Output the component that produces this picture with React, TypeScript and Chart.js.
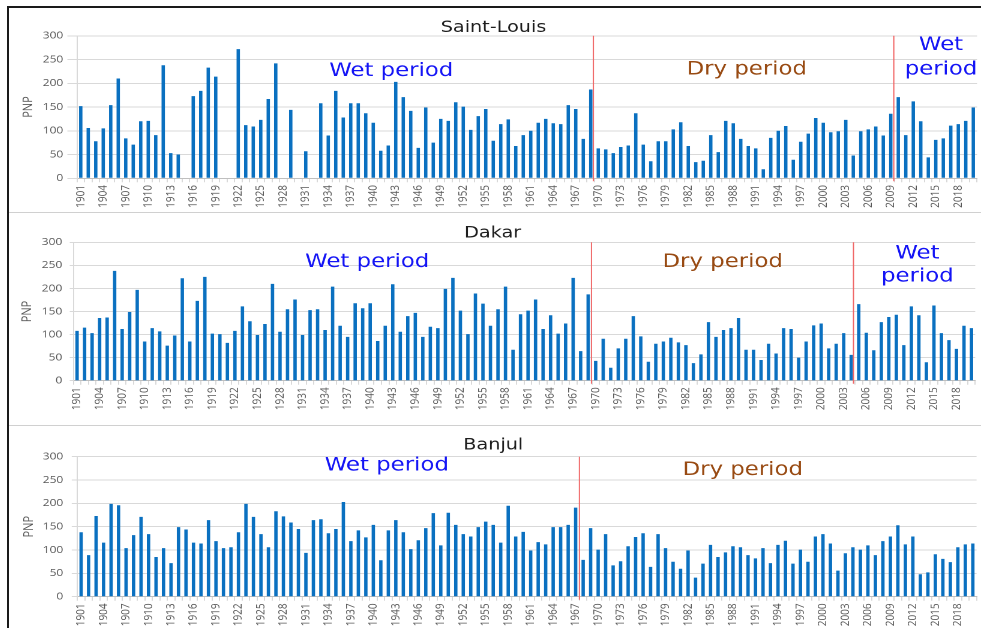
import React, { useEffect, useRef } from "react";
import { Chart, registerables } from "chart.js";
Chart.register(...registerables);

// ---------- DATA ----------
const FIRST_YEAR = 1901;
const LAST_YEAR = 2020;
const years: string[] = [];
for (let y = FIRST_YEAR; y <= LAST_YEAR; y++) years.push(String(y));

const tickLabels = [
  "1901", "1904", "1907", "1910", "1913", "1916", "1919", "1922", "1925", "1928",
  "1931", "1934", "1937", "1940", "1943", "1946", "1949", "1952", "1955", "1958",
  "1961", "1964", "1967", "1970", "1973", "1976", "1979", "1982", "1985", "1988",
  "1991", "1994", "1997", "2000", "2003", "2006", "2009", "2012", "2015", "2018",
];

const yTicks = [0, 50, 100, 150, 200, 250, 300];

const saintLouis: (number | null)[] = [
  152, 106, 78, 105, 154, 210, 84, 71, 120, 121,
  91, 238, 53, 50, null, 173, 184, 233, 214, null,
  null, 272, 112, 109, 123, 167, 242, null, 144, null,
  57, null, 158, 90, 184, 128, 158, 158, 137, 117,
  58, 69, 203, 171, 142, 64, 149, 75, 125, 121,
  160, 151, 102, 131, 146, 79, 114, 124, 68, 91,
  100, 117, 125, 116, 114, 154, 146, 83, 187, 63,
  61, 53, 66, 69, 137, 71, 36, 78, 78, 103,
  118, 68, 34, 37, 91, 55, 121, 116, 83, 68,
  63, 19, 85, 100, 110, 39, 77, 94, 127, 117,
  97, 99, 123, 48, 99, 103, 109, 90, 136, 171,
  91, 162, 120, 44, 81, 84, 111, 114, 121, 149,
];

const dakar: (number | null)[] = [
  108, 115, 103, 136, 137, 238, 112, 149, 197, 85,
  114, 107, 76, 98, 222, 85, 173, 225, 102, 101,
  82, 108, 161, 129, 99, 123, 210, 106, 155, 176,
  99, 153, 155, 110, 204, 119, 95, 168, 157, 168,
  86, 119, 209, 106, 140, 147, 95, 117, 114, 199,
  223, 152, 101, 189, 167, 119, 155, 204, 67, 144,
  152, 176, 112, 142, 102, 124, 223, 64, 187, 43,
  91, 28, 70, 91, 140, 96, 41, 80, 85, 93,
  83, 77, 38, 57, 127, 95, 110, 114, 136, 67,
  67, 45, 80, 59, 114, 112, 50, 85, 120, 124,
  70, 80, 103, 56, 166, 104, 66, 127, 138, 143,
  77, 161, 142, 40, 163, 103, 88, 69, 119, 114,
];

const banjul: (number | null)[] = [
  138, 89, 173, 116, 199, 196, 104, 132, 171, 134,
  85, 104, 72, 149, 144, 116, 114, 164, 119, 104,
  106, 138, 199, 171, 134, 106, 183, 172, 159, 145,
  94, 164, 166, 136, 145, 203, 119, 142, 127, 154,
  78, 142, 164, 138, 102, 121, 147, 179, 110, 180,
  154, 134, 129, 149, 161, 154, 116, 195, 129, 139,
  99, 117, 112, 149, 149, 154, 191, 79, 147, 101,
  134, 67, 76, 108, 128, 136, 64, 134, 104, 75,
  60, 99, 41, 71, 111, 85, 95, 108, 106, 89,
  82, 104, 72, 111, 120, 71, 101, 75, 129, 134,
  114, 56, 93, 106, 101, 110, 89, 119, 129, 153,
  112, 129, 48, 52, 91, 81, 74, 106, 112, 114,
];

// period boundaries (fractional year between two bars)
const saintLouisBreaks = [1969.35, 2009.4];
const dakarBreaks = [1969.44, 2004.3];
const banjulBreaks = [1967.5];

// period labels: text, year position, value of baseline
type Note = { text: string; year: number; value: number; kind: "wet" | "dry" };
const saintLouisNotes: Note[] = [
  { text: "Wet period", year: 1942.4, value: 215, kind: "wet" },
  { text: "Dry period", year: 1989.8, value: 219, kind: "dry" },
  { text: "Wet", year: 2015.7, value: 270, kind: "wet" },
  { text: "period", year: 2015.7, value: 219, kind: "wet" },
];
const dakarNotes: Note[] = [
  { text: "Wet period", year: 1939.6, value: 247, kind: "wet" },
  { text: "Dry period", year: 1986.9, value: 246, kind: "dry" },
  { text: "Wet", year: 2012.8, value: 265, kind: "wet" },
  { text: "period", year: 2012.8, value: 215, kind: "wet" },
];
const banjulNotes: Note[] = [
  { text: "Wet period", year: 1941.8, value: 270, kind: "wet" },
  { text: "Dry period", year: 1989.3, value: 261, kind: "dry" },
];

// ---------- LAYOUT / STYLE ----------
const LOGICAL_W = 809;
const CSS_W = 971;
const CSS_LEFT = 10;
const BAR_COLOR = "#0a70c0";
const WET_COLOR = "#1414f5";
const DRY_COLOR = "#984a12";
const BREAK_COLOR = "#f06868";
const TICK_COLOR = "#595959";
const GRID_COLOR = "#d9d9d9";

type Layout = {
  top: number; height: number; yWidth: number; yTickLen: number; yTickPad: number;
  yTitlePad: number; rightPad: number; titleTop: number; titleBottom: number;
  xHeight: number; xTickLen: number; xTickPad: number;
};

const panels = [
  {
    title: "Saint-Louis", data: saintLouis, breaks: saintLouisBreaks, notes: saintLouisNotes,
    layout: { top: 9, height: 203, yWidth: 55.8, yTickLen: 8, yTickPad: 3.4, yTitlePad: 8.7, rightPad: 3.3,
      titleTop: 10.8, titleBottom: 0, xHeight: 33.7, xTickLen: 4, xTickPad: 2.7 } as Layout,
  },
  {
    title: "Dakar", data: dakar, breaks: dakarBreaks, notes: dakarNotes,
    layout: { top: 214, height: 211, yWidth: 52.75, yTickLen: 3, yTickPad: 6.2, yTitlePad: 7.8, rightPad: 4.8,
      titleTop: 11.5, titleBottom: 0.8, xHeight: 44.3, xTickLen: 4, xTickPad: 2.6 } as Layout,
  },
  {
    title: "Banjul", data: banjul, breaks: banjulBreaks, notes: banjulNotes,
    layout: { top: 427, height: 201, yWidth: 56.1, yTickLen: 4.7, yTickPad: 7, yTitlePad: 9.5, rightPad: 3.7,
      titleTop: 10.5, titleBottom: 3.2, xHeight: 31.3, xTickLen: 4, xTickPad: 2.7 } as Layout,
  },
];

function Panel({ p }: { p: (typeof panels)[number] }) {
  const ref = useRef<HTMLCanvasElement>(null);
  const L = p.layout;
  useEffect(() => {
    const canvas = ref.current!;
    const notesPlugin = {
      id: "periodNotes",
      afterDraw(chart: any) {
        const { ctx, chartArea } = chart;
        const x = chart.scales.x;
        const y = chart.scales.y;
        ctx.save();
        ctx.strokeStyle = BREAK_COLOR;
        ctx.lineWidth = 1;
        for (const b of p.breaks) {
          const px = x.getPixelForValue(b - FIRST_YEAR);
          ctx.beginPath();
          ctx.moveTo(px, chartArea.top);
          ctx.lineTo(px, chartArea.bottom + 3);
          ctx.stroke();
        }
        ctx.font = '19px "DejaVu Sans"';
        ctx.textAlign = "center";
        ctx.textBaseline = "alphabetic";
        for (const n of p.notes) {
          ctx.fillStyle = n.kind === "wet" ? WET_COLOR : DRY_COLOR;
          ctx.fillText(n.text, x.getPixelForValue(n.year - FIRST_YEAR), y.getPixelForValue(n.value));
        }
        ctx.restore();
      },
    };
    const chart = new Chart(canvas, {
      type: "bar",
      data: {
        labels: years,
        datasets: [
          {
            data: p.data as any,
            backgroundColor: BAR_COLOR,
            borderWidth: 0,
            barPercentage: 0.45,
            categoryPercentage: 1,
          },
        ],
      },
      options: {
        animation: false,
        responsive: false,
        devicePixelRatio: 2,
        layout: { padding: { left: 0, right: L.rightPad, top: 0, bottom: 0 } },
        plugins: {
          legend: { display: false },
          tooltip: { enabled: false },
          title: {
            display: true,
            text: p.title,
            color: "#1e1e1e",
            font: { family: '"DejaVu Sans"', size: 16, weight: "normal", lineHeight: 1 },
            padding: { top: L.titleTop, bottom: L.titleBottom },
          },
        },
        scales: {
          x: {
            type: "category",
            offset: true,
            grid: {
              display: true,
              drawOnChartArea: false,
              drawTicks: true,
              tickLength: L.xTickLen,
              color: GRID_COLOR,
            },
            border: { display: true, color: "#bfbfbf", width: 1 },
            ticks: {
              autoSkip: false,
              maxRotation: 90,
              minRotation: 90,
              padding: L.xTickPad,
              color: TICK_COLOR,
              font: { family: '"Open Sans"', size: 10 },
              callback: (_v: any, i: number) => (tickLabels.includes(years[i]) ? years[i] : ""),
            },
            afterFit: (s: any) => {
              s.height = L.xHeight;
              s.paddingLeft = 0;
              s.paddingRight = 0;
            },
          },
          y: {
            min: yTicks[0],
            max: yTicks[yTicks.length - 1],
            grid: {
              color: GRID_COLOR,
              drawTicks: true,
              tickLength: L.yTickLen,
            },
            border: { display: true, color: GRID_COLOR },
            ticks: {
              stepSize: yTicks[1] - yTicks[0],
              padding: L.yTickPad,
              color: TICK_COLOR,
              font: { family: '"Open Sans"', size: 10 },
            },
            title: {
              display: true,
              text: "PNP",
              color: TICK_COLOR,
              font: { family: '"Open Sans"', size: 11, lineHeight: 1.2 },
              padding: { top: L.yTitlePad, bottom: 0 },
            },
            afterFit: (s: any) => {
              s.width = L.yWidth;
              s.paddingTop = 0;
              s.paddingBottom = 0;
            },
          },
        },
      } as any,
      plugins: [notesPlugin],
    });
    return () => chart.destroy();
  }, []);
  return (
    <canvas
      ref={ref}
      width={LOGICAL_W}
      height={L.height}
      style={{ position: "absolute", left: CSS_LEFT, top: L.top, width: CSS_W, height: L.height }}
    />
  );
}

export default function App() {
  return (
    <div style={{ position: "absolute", left: 0, top: 0, width: 981, height: 628, overflow: "hidden", background: "#fff" }}>
      <div
        style={{
          position: "absolute", left: 7, top: 6, width: 972, height: 640,
          borderTop: "2px solid #1a1a1a", borderLeft: "2px solid #1a1a1a",
        }}
      />
      <div style={{ position: "absolute", left: 9, top: 212, width: 972, height: 1, background: "#d0d0d0" }} />
      <div style={{ position: "absolute", left: 9, top: 425, width: 972, height: 1, background: "#d0d0d0" }} />
      {panels.map((p) => (
        <Panel key={p.title} p={p} />
      ))}
    </div>
  );
}
